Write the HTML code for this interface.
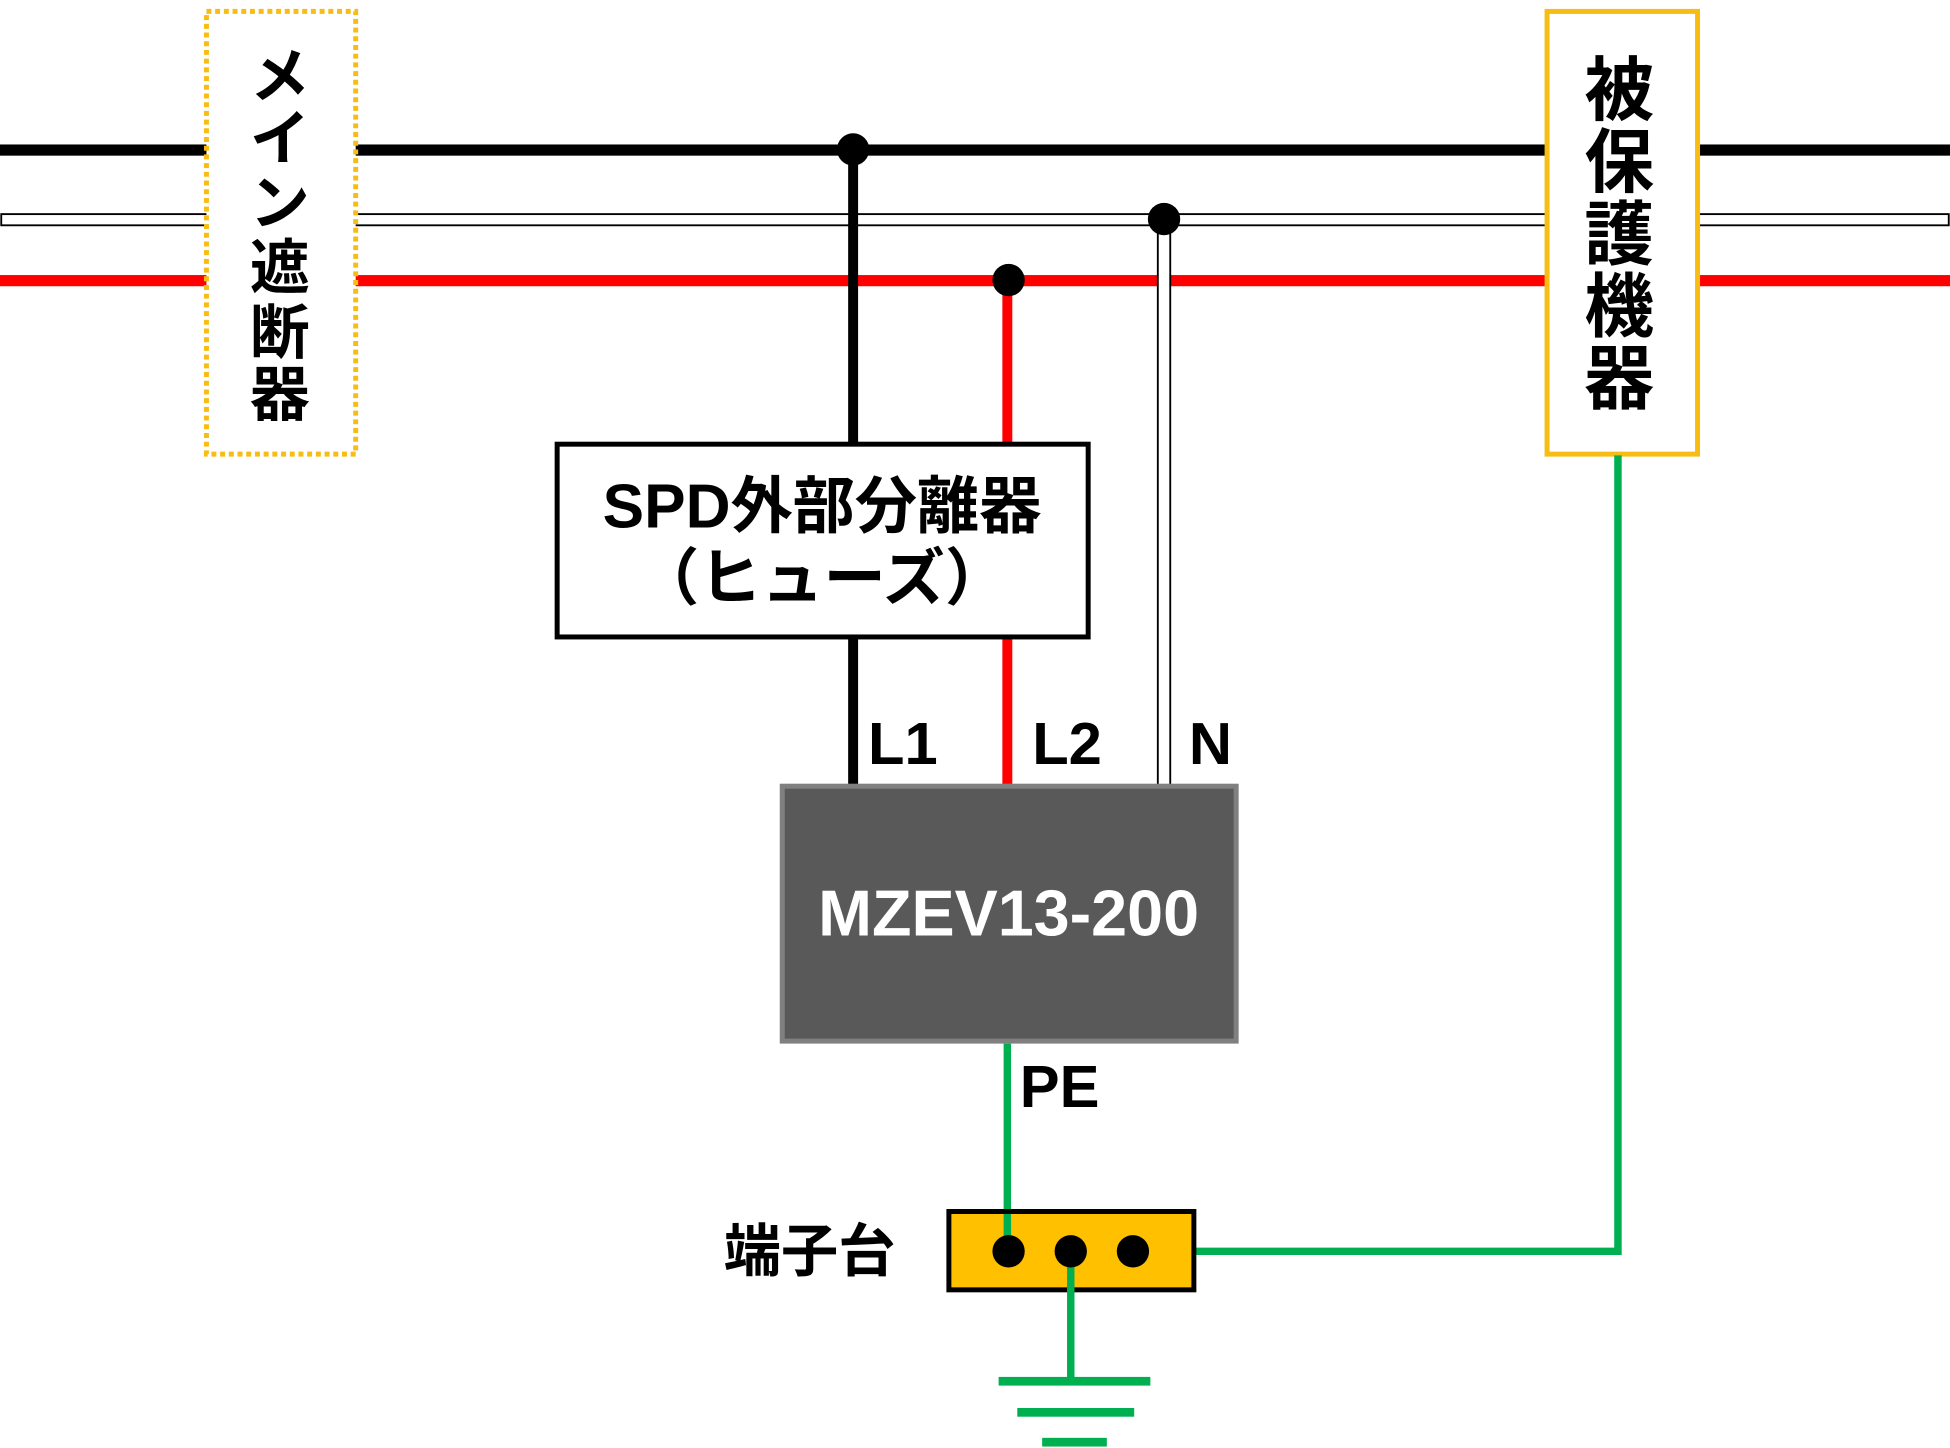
<!DOCTYPE html>
<html><head><meta charset="utf-8"><style>
html,body{margin:0;padding:0;background:#fff;}
svg{display:block;}
text{font-family:"Liberation Sans","Noto Sans CJK JP",sans-serif;font-weight:bold;}
</style></head><body>
<svg width="1950" height="1448" viewBox="0 0 1568 1164" xmlns="http://www.w3.org/2000/svg">
<rect width="1568" height="1164" fill="#fff"/>
<rect x="0" y="116" width="1568" height="9" fill="#000"/>
<rect x="1" y="172" width="1566" height="9" fill="#fff" stroke="#000" stroke-width="1.5"/>
<rect x="0" y="221" width="1568" height="9" fill="#ff0000"/>
<rect x="682" y="120" width="8" height="512" fill="#000"/>
<rect x="806" y="225" width="8" height="407" fill="#ff0000"/>
<rect x="931" y="176" width="10" height="456" fill="#fff" stroke="#000" stroke-width="1.5"/>
<circle cx="686" cy="120" r="13" fill="#000"/>
<circle cx="811" cy="225" r="13" fill="#000"/>
<circle cx="936" cy="176" r="13" fill="#000"/>
<rect x="166" y="9" width="120" height="356" fill="#fff" stroke="#f7bd14" stroke-width="4" stroke-dasharray="4 3"/>
<g font-size="48" text-anchor="middle" fill="#000">
<text x="225" y="78">メ</text>
<text x="225" y="128">イ</text>
<text x="225" y="180">ン</text>
<text x="225" y="232">遮</text>
<text x="225" y="284">断</text>
<text x="225" y="334">器</text>
</g>
<rect x="1244" y="9" width="121" height="356" fill="#fff" stroke="#f7bd14" stroke-width="4"/>
<g font-size="56" text-anchor="middle" fill="#000">
<text x="1302" y="92">被</text>
<text x="1302" y="150">保</text>
<text x="1302" y="208">護</text>
<text x="1302" y="266">機</text>
<text x="1302" y="324">器</text>
</g>
<rect x="448" y="357" width="427" height="155" fill="#fff" stroke="#000" stroke-width="4"/>
<text x="661" y="424" font-size="50" text-anchor="middle">SPD外部分離器</text>
<text x="661" y="482" font-size="50" text-anchor="middle">（ヒューズ）</text>
<text x="698" y="614" font-size="48">L1</text>
<text x="830" y="614" font-size="48">L2</text>
<text x="956" y="614" font-size="48">N</text>
<rect x="629" y="632" width="365" height="205" fill="#595959" stroke="#808080" stroke-width="4"/>
<text x="811" y="752" font-size="52" fill="#fff" text-anchor="middle">MZEV13-200</text>
<g stroke="#00b050" stroke-width="6" fill="none">
<line x1="810" y1="839" x2="810" y2="1006"/>
<polyline points="911,1006 1301,1006 1301,366"/>
</g>
<text x="820" y="890" font-size="48">PE</text>
<rect x="763" y="974" width="197" height="63" fill="#ffc000" stroke="#000" stroke-width="4"/>
<g stroke="#00b050" stroke-width="6" fill="none">
<line x1="810" y1="976" x2="810" y2="1006"/>
<line x1="861" y1="1006" x2="861" y2="1110"/>
</g>
<circle cx="811" cy="1006" r="13" fill="#000"/>
<circle cx="861" cy="1006" r="13" fill="#000"/>
<circle cx="911" cy="1006" r="13" fill="#000"/>
<text x="651" y="1022" font-size="46" text-anchor="middle">端子台</text>
<rect x="803" y="1107" width="122" height="7" fill="#00b050"/>
<rect x="818" y="1132" width="94" height="7" fill="#00b050"/>
<rect x="838" y="1156" width="52" height="7" fill="#00b050"/>
</svg>
</body></html>
